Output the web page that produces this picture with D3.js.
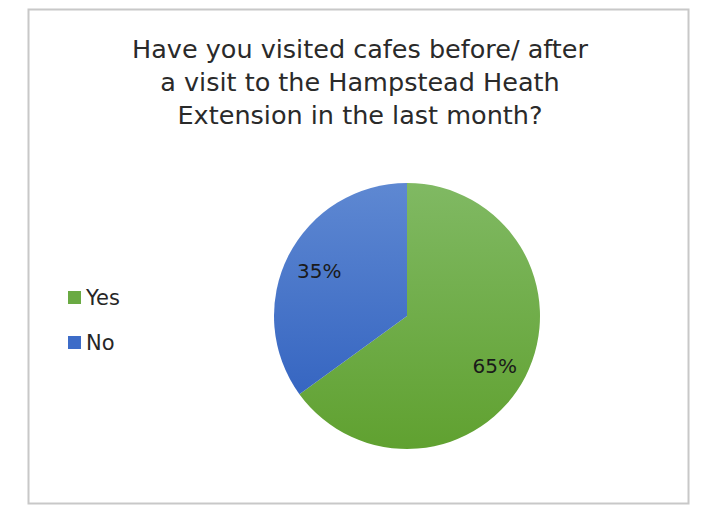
<!DOCTYPE html>
<html><head><meta charset="utf-8">
<script src="https://cdn.jsdelivr.net/npm/d3@7"></script>
<style>body{margin:0;background:#fff}svg{display:block}</style>
</head><body>
<script>
const categories = ["Yes", "No"];
const values = [65, 35];
const labels = ["65%", "35%"];
const titleLines = ["Have you visited cafes before/ after", "a visit to the Hampstead Heath", "Extension in the last month?"];

const W = 706, H = 505;
const svg = d3.select("body").append("svg").attr("width", W).attr("height", H);
const font = "'Century Gothic', 'DejaVu Sans', sans-serif";

svg.append("rect").attr("x", 28.5).attr("y", 9.5).attr("width", 660).attr("height", 494)
  .attr("fill", "#fff").attr("stroke", "#c8c8c8").attr("stroke-width", 2);

svg.append("g").selectAll("text").data(titleLines).join("text")
  .attr("x", 360).attr("y", (d, i) => 58 + i * 33)
  .attr("text-anchor", "middle").attr("font-family", font).attr("font-size", 25.5)
  .attr("fill", "#2a2a2a").text(d => d);

const cx = 407, cy = 316, r = 133;
const defs = svg.append("defs");
const grads = [["#80b963", "#60a130"], ["#5e88d2", "#2c5dbd"]];
grads.forEach((g, i) => {
  const lg = defs.append("linearGradient").attr("id", "g" + i)
    .attr("gradientUnits", "userSpaceOnUse")
    .attr("x1", 0).attr("y1", -r).attr("x2", 0).attr("y2", r);
  lg.append("stop").attr("offset", 0).attr("stop-color", g[0]);
  lg.append("stop").attr("offset", 1).attr("stop-color", g[1]);
});
const color = d3.scaleOrdinal().domain(categories).range(["url(#g0)", "url(#g1)"]);
const swatch = d3.scaleOrdinal().domain(categories).range(["#6aaa43", "#3d6cc8"]);

const pie = d3.pie().sort(null).value(d => d.v);
const data = pie(categories.map((c, i) => ({c, v: values[i], l: labels[i]})));
const arc = d3.arc().innerRadius(0).outerRadius(r);
const g = svg.append("g").attr("transform", `translate(${cx},${cy})`);
g.selectAll("path").data(data).join("path")
  .attr("d", arc).attr("fill", d => color(d.data.c));

const labelArc = d3.arc().innerRadius(r * 0.74).outerRadius(r * 0.74);
g.selectAll("text").data(data).join("text")
  .attr("transform", d => { const c = labelArc.centroid(d); return `translate(${c[0]},${c[1] + (d.data.c === "Yes" ? 5 : 0)})`; })
  .attr("text-anchor", "middle").attr("dy", "0.35em")
  .attr("font-family", font).attr("font-size", 20).attr("fill", "#1a1a1a")
  .text(d => d.data.l);

const leg = svg.append("g");
const ly = d3.scalePoint().domain(categories).range([297, 342]);
leg.selectAll("rect").data(categories).join("rect")
  .attr("x", 68).attr("y", d => ly(d) - 6).attr("width", 13).attr("height", 13)
  .attr("fill", d => swatch(d));
leg.selectAll("text").data(categories).join("text")
  .attr("x", 86).attr("y", d => ly(d)).attr("dy", "0.38em")
  .attr("font-family", font).attr("font-size", 21).attr("fill", "#262626")
  .text(d => d);
</script>
</body></html>
